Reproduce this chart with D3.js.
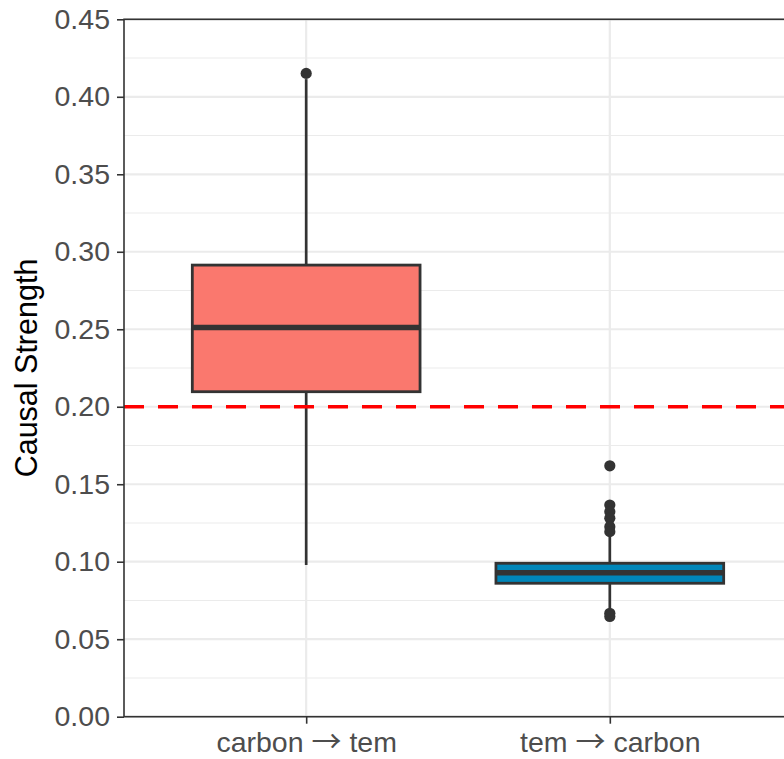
<!DOCTYPE html>
<html>
  <head>
    <title>Causal strength box plot</title>
    <script src="https://d3js.org/d3.v7.min.js"></script>
    <style type="text/css">
      body { margin: 0; background: #fff; }
      text { font-family: "Liberation Sans", Arial, sans-serif; }
    </style>
  </head>
  <body>
    <script>
      // Data
      var categories = ["carbon \u2192 tem", "tem \u2192 carbon"];
      var q1 = [0.2097, 0.0861];
      var medians = [0.2512, 0.0929];
      var q3 = [0.2914, 0.0990];
      var whiskerLow = [0.0979, 0.0700];
      var whiskerHigh = [0.4114, 0.1165];
      var outliers = [
        [0.4151],
        [0.1619, 0.1366, 0.1323, 0.1280, 0.1226, 0.1194, 0.0667, 0.0647]
      ];
      var yTicks = [0, 0.05, 0.10, 0.15, 0.20, 0.25, 0.30, 0.35, 0.40, 0.45];
      var yMinor = [0.025, 0.075, 0.125, 0.175, 0.225, 0.275, 0.325, 0.375, 0.425];
      var threshold = 0.2;
      var fills = ["#FA786E", "#0086B9"];

      var svgWidth = 784;
      var svgHeight = 759;
      var plotLeft = 124, plotRight = 792, plotTop = 19.3, plotBottom = 716.7;

      var svg = d3.select("body")
                  .append("svg")
                  .attr("width", svgWidth)
                  .attr("height", svgHeight);

      var xScale = d3.scalePoint()
                     .domain(categories)
                     .range([plotLeft, plotRight])
                     .padding(0.6);

      var yScale = d3.scaleLinear()
                     .domain([0, 0.45])
                     .range([plotBottom, plotTop]);

      var boxWidth = xScale.step() * 0.75;

      // Grid lines
      var grid = svg.append("g");
      grid.selectAll(".minor")
          .data(yMinor)
          .enter()
          .append("line")
          .attr("x1", plotLeft).attr("x2", plotRight)
          .attr("y1", function(d) { return yScale(d); })
          .attr("y2", function(d) { return yScale(d); })
          .attr("stroke", "#EBEBEB")
          .attr("stroke-width", 1.1);
      grid.selectAll(".major")
          .data(yTicks)
          .enter()
          .append("line")
          .attr("x1", plotLeft).attr("x2", plotRight)
          .attr("y1", function(d) { return yScale(d); })
          .attr("y2", function(d) { return yScale(d); })
          .attr("stroke", "#EBEBEB")
          .attr("stroke-width", 2.2);
      grid.selectAll(".vmajor")
          .data(categories)
          .enter()
          .append("line")
          .attr("x1", function(d) { return xScale(d); })
          .attr("x2", function(d) { return xScale(d); })
          .attr("y1", plotTop).attr("y2", plotBottom)
          .attr("stroke", "#EBEBEB")
          .attr("stroke-width", 2.2);

      // Boxes
      var boxes = svg.selectAll(".box")
                     .data(categories)
                     .enter()
                     .append("g");

      boxes.append("line")
           .attr("x1", function(d) { return xScale(d); })
           .attr("x2", function(d) { return xScale(d); })
           .attr("y1", function(d, i) { return yScale(q3[i]); })
           .attr("y2", function(d, i) { return yScale(whiskerHigh[i]); })
           .attr("stroke", "#333333")
           .attr("stroke-width", 2.7);

      boxes.append("line")
           .attr("x1", function(d) { return xScale(d); })
           .attr("x2", function(d) { return xScale(d); })
           .attr("y1", function(d, i) { return yScale(q1[i]); })
           .attr("y2", function(d, i) { return yScale(whiskerLow[i]); })
           .attr("stroke", "#333333")
           .attr("stroke-width", 2.7);

      boxes.append("rect")
           .attr("x", function(d) { return xScale(d) - boxWidth / 2; })
           .attr("y", function(d, i) { return yScale(q3[i]); })
           .attr("width", boxWidth)
           .attr("height", function(d, i) { return yScale(q1[i]) - yScale(q3[i]); })
           .attr("fill", function(d, i) { return fills[i]; })
           .attr("stroke", "#333333")
           .attr("stroke-width", 2.8);

      boxes.append("line")
           .attr("x1", function(d) { return xScale(d) - boxWidth / 2; })
           .attr("x2", function(d) { return xScale(d) + boxWidth / 2; })
           .attr("y1", function(d, i) { return yScale(medians[i]); })
           .attr("y2", function(d, i) { return yScale(medians[i]); })
           .attr("stroke", "#333333")
           .attr("stroke-width", 5.5);

      boxes.each(function(d, i) {
        d3.select(this).selectAll("circle")
          .data(outliers[i])
          .enter()
          .append("circle")
          .attr("cx", xScale(d))
          .attr("cy", function(v) { return yScale(v); })
          .attr("r", 5.6)
          .attr("fill", "#333333");
      });

      // Threshold line
      svg.append("line")
         .attr("x1", plotLeft).attr("x2", plotRight)
         .attr("y1", yScale(threshold)).attr("y2", yScale(threshold))
         .attr("stroke", "#FF0000")
         .attr("stroke-width", 3.4)
         .attr("stroke-dasharray", "20,14");

      // Panel border
      svg.append("rect")
         .attr("x", plotLeft).attr("y", plotTop)
         .attr("width", plotRight - plotLeft).attr("height", plotBottom - plotTop)
         .attr("fill", "none")
         .attr("stroke", "#333333")
         .attr("stroke-width", 1.6);

      // Axes
      var yAxis = d3.axisLeft(yScale)
                    .tickValues(yTicks)
                    .tickFormat(d3.format(".2f"))
                    .tickSize(7)
                    .tickPadding(7);
      var gy = svg.append("g")
                  .attr("transform", "translate(" + plotLeft + ",0)")
                  .call(yAxis);
      gy.select(".domain").remove();
      gy.selectAll(".tick line").attr("stroke", "#333333").attr("stroke-width", 1.6);
      gy.selectAll(".tick text")
        .attr("fill", "#4D4D4D")
        .attr("font-size", "28.5px")
        .attr("font-family", "'Liberation Sans', Arial, sans-serif");

      var xAxis = d3.axisBottom(xScale)
                    .tickSize(7)
                    .tickPadding(8);
      var gx = svg.append("g")
                  .attr("transform", "translate(0," + plotBottom + ")")
                  .call(xAxis);
      gx.select(".domain").remove();
      gx.selectAll(".tick line").attr("stroke", "#333333").attr("stroke-width", 1.6);

      // Split category labels so the arrow can use a font with a long thin arrow
      gx.selectAll(".tick text")
        .attr("fill", "#4D4D4D")
        .attr("font-size", "28.5px")
        .attr("font-family", "'Liberation Sans', Arial, sans-serif")
        .each(function(d) {
          var parts = d.split(" \u2192 ");
          var t = d3.select(this).text(null);
          t.append("tspan").text(parts[0] + " ");
          t.append("tspan")
           .attr("font-family", "'Noto Sans CJK SC', sans-serif")
           .attr("font-size", "30px")
           .text("\u2192");
          t.append("tspan").text(" " + parts[1]);
        });

      // Y label
      svg.append("text")
         .attr("transform", "rotate(-90)")
         .attr("x", -(plotTop + plotBottom) / 2)
         .attr("y", 37)
         .attr("text-anchor", "middle")
         .attr("fill", "#000000")
         .attr("font-size", "30.5px")
         .text("Causal Strength");
    </script>
  </body>
</html>
